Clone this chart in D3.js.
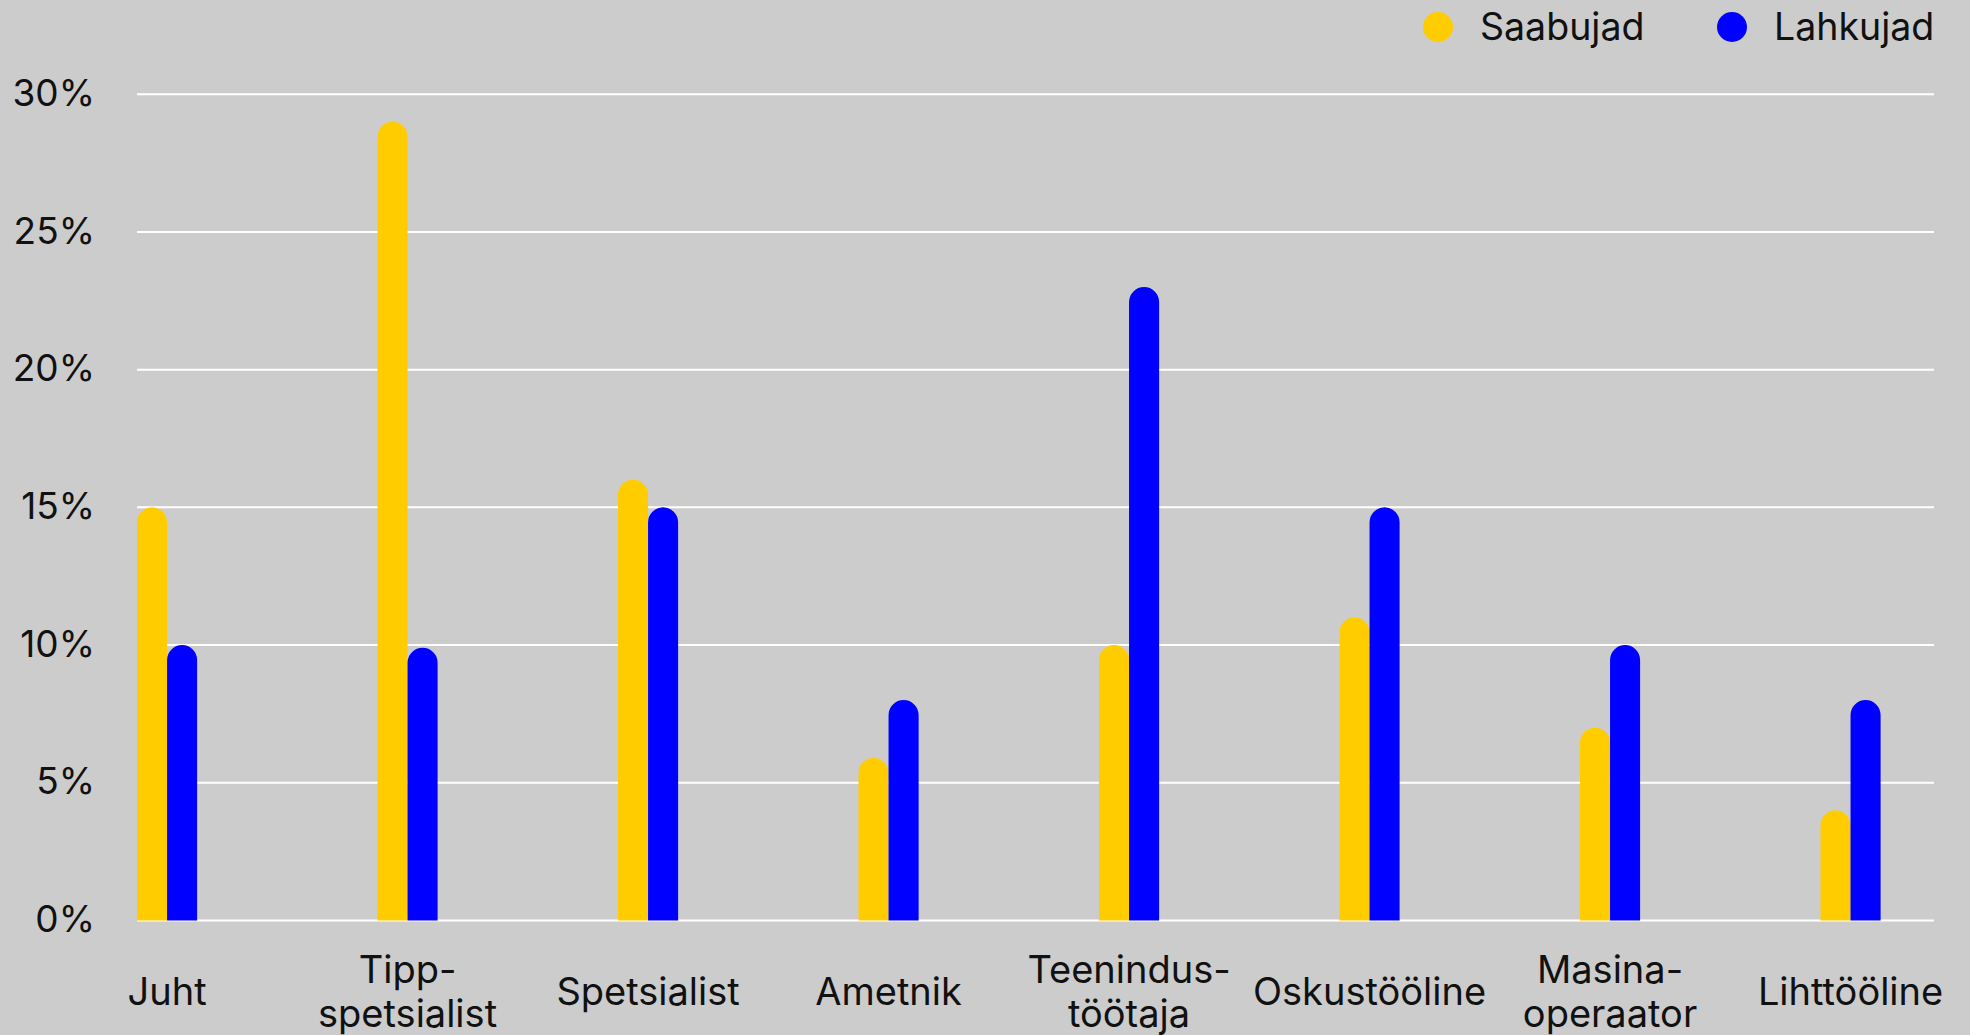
<!DOCTYPE html>
<html>
<head>
<meta charset="utf-8">
<script src="https://cdn.jsdelivr.net/npm/d3@7"></script>
<style>
  html, body { margin: 0; padding: 0; background: #cccccc; }
  svg { display: block; }
  text { font-family: Inter, "Open Sans", sans-serif; fill: #111; }
</style>
</head>
<body>
<svg id="chart" width="1970" height="1035"></svg>
<script>
const categories = ["Juht", "Tipp-spetsialist", "Spetsialist", "Ametnik", "Teenindus-töötaja", "Oskustööline", "Masina-operaator", "Lihttööline"];
const categoryLines = [["Juht"], ["Tipp-", "spetsialist"], ["Spetsialist"], ["Ametnik"], ["Teenindus-", "töötaja"], ["Oskustööline"], ["Masina-", "operaator"], ["Lihttööline"]];
const seriesNames = ["Saabujad", "Lahkujad"];
const saabujad = [15, 29, 16, 5.9, 10, 11, 7, 4];
const lahkujad = [10, 9.9, 15, 8, 23, 15, 10, 8];
const yTicks = [0, 5, 10, 15, 20, 25, 30];
const colors = ["#ffcc00", "#0000ff"];

const svg = d3.select("#chart");
const W = 1970, H = 1035;
svg.append("rect").attr("width", W).attr("height", H).attr("fill", "#cccccc");

const gridLeft = 137, gridRight = 1934;
const y = d3.scaleLinear().domain([0, 30]).range([920.4, 94.3]);
const x0 = d3.scaleBand().domain(categories).range([137, 1880.6]).paddingInner(0.75).paddingOuter(0);
const x1 = d3.scaleBand().domain(seriesNames).range([0, x0.bandwidth()]).padding(0);

// grid
const grid = svg.append("g");
grid.selectAll("line").data(yTicks).join("line")
  .attr("x1", gridLeft).attr("x2", gridRight)
  .attr("y1", d => y(d)).attr("y2", d => y(d))
  .attr("stroke", "#ffffff").attr("stroke-width", 2);

// y axis labels
const yAxis = d3.axisLeft(y).tickValues(yTicks).tickFormat(d => d + "%").tickSize(0).tickPadding(0);
const ya = svg.append("g").attr("transform", "translate(95,0)").call(yAxis);
ya.select(".domain").remove();
ya.selectAll("text").attr("font-size", 37).attr("font-family", "Inter, sans-serif").attr("fill", "#111").attr("dy", "0.3em");

// bars with rounded tops
function barPath(x, w, yTop, yBase) {
  const r = Math.min(w / 2, (yBase - yTop));
  return `M${x},${yBase} L${x},${yTop + r} A${r},${r} 0 0 1 ${x + r},${yTop} L${x + w - r},${yTop} A${r},${r} 0 0 1 ${x + w},${yTop + r} L${x + w},${yBase} Z`;
}
const data = categories.map((c, i) => ({ c, vals: [saabujad[i], lahkujad[i]] }));
const groups = svg.append("g").selectAll("g").data(data).join("g")
  .attr("transform", d => `translate(${x0(d.c)},0)`);
groups.selectAll("path").data(d => d.vals.map((v, j) => ({ s: seriesNames[j], v, j }))).join("path")
  .attr("d", d => barPath(x1(d.s), x1.bandwidth(), y(d.v), y(0)))
  .attr("fill", d => colors[d.j]);

// x labels
const xl = svg.append("g");
categories.forEach((c, i) => {
  const lines = categoryLines[i];
  const cx = x0(c) + x0.bandwidth() / 2;
  const t = xl.append("text").attr("x", cx).attr("text-anchor", "middle").attr("font-size", 38);
  if (lines.length === 1) {
    t.append("tspan").attr("x", cx).attr("y", 1005).text(lines[0]);
  } else {
    t.append("tspan").attr("x", cx).attr("y", 983).text(lines[0]);
    t.append("tspan").attr("x", cx).attr("y", 1027).text(lines[1]);
  }
});

// legend
const legendX = [1438, 1732];
const lg = svg.append("g");
seriesNames.forEach((s, i) => {
  lg.append("circle").attr("cx", legendX[i]).attr("cy", 27).attr("r", 15).attr("fill", colors[i]);
  lg.append("text").attr("x", legendX[i] + 42).attr("y", 40).attr("font-size", 37.5).text(s);
});
</script>
</body>
</html>
